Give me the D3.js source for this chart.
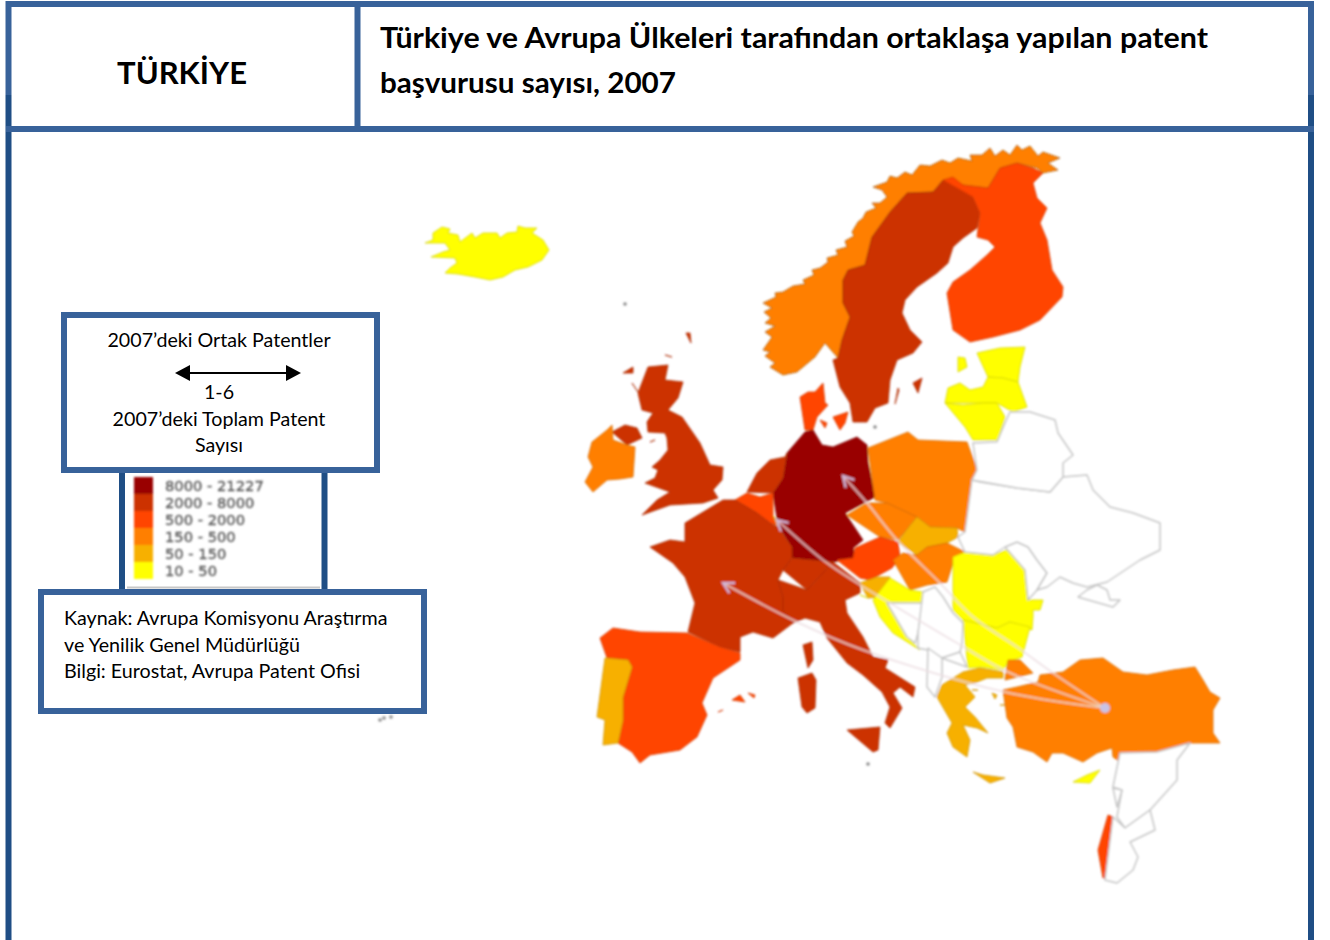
<!DOCTYPE html>
<html>
<head>
<meta charset="utf-8">
<script src="https://cdn.jsdelivr.net/npm/d3@7"></script>
<style>
    html, body { margin: 0; padding: 0; background: #fff; }
    svg { display: block; }
    text { font-family: Lato, "Open Sans", sans-serif; fill: #000; }
    .country { stroke-linejoin: round; }
    .legend-label { font-family: "DejaVu Sans", sans-serif; font-size: 14.7px; fill: #5e5e5e; stroke: #5e5e5e; stroke-width: 0.4px; }
</style>
</head>
<body>
<svg class="chart"></svg>
<script>
// Legend bands
var bandLabels = ['8000 - 21227', '2000 - 8000', '500 - 2000', '150 - 500', '50 - 150', '10 - 50'];
var bandFloors = [8000, 2000, 500, 150, 50, 10];
var bandColors = ['#990000', '#cc3300', '#ff4500', '#ff7f00', '#f7b000', '#ffff00'];

// Which band each country falls in (lower bound, read from the colours). 0 = no data
var countryNames = ['Norveç', 'İsveç', 'Finlandiya', 'Estonya', 'Letonya', 'Litvanya', 'Danimarka', 'Almanya',
    'Hollanda', 'Belçika', 'Lüksemburg', 'Fransa', 'İsviçre', 'İtalya', 'İspanya', 'Portekiz', 'Birleşik Krallık',
    'İrlanda', 'Polonya', 'Çekya', 'Slovakya', 'Avusturya', 'Macaristan', 'Slovenya', 'Hırvatistan', 'Romanya',
    'Bulgaristan', 'Yunanistan', 'Türkiye', 'Kıbrıs', 'İsrail', 'İzlanda', 'Bosna', 'Sırbistan', 'Arnavutluk',
    'Makedonya', 'Moldova', 'Ukrayna', 'Kırım', 'Belarus', 'Suriye', 'Lübnan', 'Ürdün'];
var countryValues = [150, 2000, 500, 10, 10, 10, 500, 8000,
    2000, 500, 50, 2000, 2000, 2000, 500, 50, 2000,
    150, 150, 150, 50, 500, 150, 50, 10, 10,
    10, 50, 150, 10, 500, 10, 0, 0, 0,
    0, 0, 0, 0, 0, 0, 0, 0];

// Outlines, map units. Each country is a list of rings
var countryRings = [
    [[[763,350],[770,352],[765,356],[775,363],[770,367],[783,375],[797,372],[815,357],[825,343],[838,358],[842,340],[850,317],[843,303],[843,280],[848,270],[865,265],[872,237],[890,212],[907,193],[933,192],[943,180],[963,185],[988,188],[1000,168],[1017,163],[1037,168],[1043,173],[1058,170],[1048,163],[1060,158],[1043,152],[1038,156],[1030,146],[1022,150],[1017,145],[1010,155],[1003,150],[995,156],[990,148],[982,155],[970,155],[972,161],[958,158],[950,163],[942,160],[930,166],[920,165],[912,175],[905,172],[897,178],[890,176],[887,182],[873,187],[882,190],[887,197],[880,203],[872,203],[876,208],[866,212],[863,218],[858,222],[852,232],[854,236],[845,241],[847,247],[836,250],[838,255],[827,258],[828,262],[820,268],[812,270],[814,275],[803,280],[805,284],[793,286],[783,292],[775,293],[776,297],[763,303],[772,308],[764,312],[771,318],[765,323],[775,326],[765,332],[772,337],[763,343]]],
    [[[833,360],[838,358],[842,340],[850,317],[843,303],[843,280],[848,270],[865,265],[872,237],[890,212],[907,193],[933,192],[943,180],[963,185],[973,197],[980,213],[977,228],[963,238],[953,247],[948,263],[937,273],[917,287],[905,300],[902,313],[910,330],[922,342],[913,353],[897,360],[890,380],[888,403],[875,408],[867,422],[853,422],[850,403],[840,387],[835,370]],
     [[913,383],[922,378],[918,393],[913,395]], [[898,388],[899,390],[895,404],[893,405]]],
    [[[943,180],[953,177],[963,185],[988,188],[1000,168],[1017,163],[1033,168],[1043,173],[1033,183],[1037,198],[1047,208],[1040,223],[1047,240],[1052,270],[1063,287],[1062,297],[1040,320],[1020,330],[993,337],[970,342],[953,330],[947,293],[953,282],[970,270],[987,255],[995,247],[988,240],[977,237],[980,213],[973,197],[963,185]]],
    [[[977,353],[1000,348],[1025,347],[1020,367],[1018,382],[1003,378],[988,377],[977,370]], [[958,357],[965,358],[967,367],[958,372],[954,368]]],
    [[[945,403],[948,388],[960,383],[970,390],[983,387],[988,377],[1003,378],[1018,382],[1027,407],[1013,412],[997,403],[983,403],[963,405]]],
    [[[945,403],[963,405],[983,403],[997,403],[1005,417],[998,440],[973,440],[965,427],[947,427]]],
    [[[800,397],[808,392],[815,392],[823,383],[825,403],[828,405],[817,417],[813,430],[805,430],[800,417]], [[833,417],[848,412],[845,423],[840,430],[832,427]], [[820,420],[827,423],[825,428],[818,427]]],
    [[[805,432],[813,430],[822,445],[833,447],[857,437],[867,445],[868,463],[875,497],[845,513],[863,540],[853,548],[855,558],[833,562],[792,558],[792,547],[778,525],[773,493],[783,478],[787,453],[805,450]]],
    [[[747,492],[757,473],[770,460],[785,457],[787,453],[783,478],[773,493],[760,497]]],
    [[[735,500],[747,493],[760,497],[773,493],[773,517],[777,525],[770,523],[757,513],[747,507]]],
    [[[773,516],[777,520],[778,527],[772,524]]],
    [[[723,500],[735,500],[747,507],[757,513],[770,523],[778,527],[792,547],[792,558],[783,570],[778,580],[783,597],[783,610],[793,623],[773,638],[753,632],[740,637],[740,652],[720,647],[688,632],[695,603],[685,577],[673,563],[650,547],[670,540],[685,542],[685,523],[707,528]], [[803,645],[812,642],[813,660],[808,668],[803,660]]],
    [[[783,570],[792,558],[833,562],[823,573],[807,590],[785,583]]],
    [[[807,590],[823,573],[833,562],[860,583],[860,593],[845,600],[847,613],[863,637],[873,657],[888,660],[885,668],[915,687],[913,697],[900,687],[893,693],[902,708],[890,728],[885,723],[890,707],[882,692],[863,675],[847,663],[827,638],[820,622],[805,618],[793,623],[783,610],[783,597],[778,580],[785,583]],
     [[798,678],[812,673],[816,680],[815,708],[807,713],[802,707],[802,687]], [[847,730],[880,727],[878,750],[873,752],[857,740]]],
    [[[600,638],[613,628],[640,632],[687,633],[720,647],[740,653],[740,660],[713,678],[702,703],[707,715],[697,737],[680,750],[650,755],[640,763],[632,752],[618,743],[623,720],[623,697],[632,667],[628,660],[607,658],[603,650]],
     [[732,700],[740,695],[745,702],[738,706]], [[748,693],[755,695],[754,698],[750,697]], [[718,712],[723,710],[722,714]]],
    [[[605,658],[628,660],[632,667],[623,697],[623,720],[618,743],[603,745],[605,720],[597,717],[603,687]]],
    [[[648,367],[668,365],[665,380],[683,382],[678,398],[668,410],[682,417],[700,443],[710,465],[723,467],[722,480],[713,490],[718,498],[703,503],[670,505],[642,515],[657,500],[670,492],[645,483],[655,478],[658,470],[652,467],[660,460],[668,450],[667,438],[665,433],[648,432],[647,422],[653,413],[642,410],[638,393],[638,380]],
     [[612,432],[625,425],[637,428],[642,438],[627,445],[613,440]], [[623,373],[633,367],[633,373],[625,380]], [[632,383],[638,392],[633,390]], [[650,442],[655,440],[653,445]], [[665,355],[672,357],[667,358]], [[686,333],[690,333],[691,343],[688,343]]],
    [[[607,430],[612,425],[613,440],[627,445],[635,447],[633,477],[620,479],[607,480],[593,492],[585,482],[593,467],[588,457],[592,442],[607,438]]],
    [[[868,448],[908,432],[918,440],[967,442],[977,470],[972,480],[980,507],[965,532],[957,528],[930,527],[917,517],[887,503],[875,500],[872,470]]],
    [[[847,515],[867,503],[887,503],[917,517],[908,528],[898,540],[880,537],[863,540]]],
    [[[898,542],[908,528],[917,517],[930,527],[957,528],[958,537],[947,543],[927,547],[917,555],[903,553]]],
    [[[837,560],[853,558],[855,548],[880,537],[898,542],[900,557],[892,568],[870,580],[860,578],[837,570]]],
    [[[893,560],[903,553],[917,555],[927,547],[947,543],[965,552],[953,563],[947,582],[927,585],[910,590],[897,577]]],
    [[[860,583],[877,577],[890,577],[880,597],[868,598],[863,592]]],
    [[[890,578],[910,590],[923,592],[925,603],[887,602],[898,620],[907,637],[920,650],[893,633],[880,617],[873,600],[882,597]], [[860,595],[868,598],[865,610]]],
    [[[953,557],[965,552],[993,555],[1007,550],[1015,557],[1025,570],[1028,600],[1043,600],[1040,610],[1033,610],[1033,617],[1032,630],[1010,622],[997,628],[963,620],[953,610],[940,587]]],
    [[[963,620],[997,628],[1010,622],[1030,627],[1022,657],[1008,662],[1003,670],[982,667],[968,668],[962,657]]],
    [[[937,697],[942,685],[963,672],[980,668],[1003,672],[1003,678],[987,678],[977,682],[965,685],[975,697],[965,707],[975,717],[988,733],[977,728],[963,725],[970,740],[967,757],[960,752],[953,747],[947,733],[952,723],[940,710]], [[973,772],[983,775],[1005,778],[990,783],[975,777]], [[992,693],[997,695],[995,699],[991,698]], [[972,690],[978,690],[977,695]], [[1000,705],[1006,705],[1005,708]]],
    [[[1003,690],[1017,687],[1038,682],[1040,675],[1063,672],[1080,660],[1103,658],[1123,672],[1147,675],[1173,670],[1195,667],[1203,680],[1210,692],[1220,698],[1213,710],[1213,733],[1220,743],[1190,743],[1157,752],[1123,753],[1122,763],[1113,757],[1112,748],[1097,753],[1083,762],[1063,753],[1052,753],[1047,762],[1033,752],[1017,747],[1013,727],[1007,718],[1003,702]],
     [[1005,680],[1008,660],[1020,660],[1033,673],[1017,677],[1005,687]]],
    [[[1073,782],[1087,775],[1100,770],[1090,783],[1077,788]]],
    [[[1108,815],[1113,817],[1110,840],[1105,878],[1103,878],[1098,850],[1097,847]]],
    [[[425,243],[433,240],[433,233],[442,227],[450,229],[448,233],[458,235],[460,242],[472,233],[475,238],[483,233],[497,233],[500,238],[507,233],[517,232],[518,226],[525,228],[537,228],[532,233],[543,240],[549,250],[542,260],[528,267],[515,270],[503,277],[490,280],[475,277],[458,274],[445,273],[450,268],[457,263],[455,258],[431,257],[443,252],[450,250],[445,243],[435,243]]],
    [[[887,603],[923,603],[918,633],[915,643],[907,637],[898,620]]],
    [[[923,592],[935,587],[943,597],[953,613],[963,623],[962,643],[960,652],[942,658],[928,650],[918,648],[918,633],[923,603]]],
    [[[928,648],[942,658],[942,677],[935,697],[927,687],[925,667]]],
    [[[942,658],[960,652],[967,667],[947,677]]],
    [[[1005,547],[1017,542],[1028,547],[1037,560],[1047,573],[1037,590],[1028,600],[1025,570],[1015,557]]],
    [[[972,480],[980,482],[1017,488],[1050,492],[1063,477],[1087,475],[1093,490],[1110,507],[1133,513],[1160,523],[1160,550],[1140,560],[1107,582],[1095,585],[1087,587],[1073,583],[1060,577],[1047,587],[1037,590],[1047,573],[1037,560],[1028,547],[1017,542],[1005,547],[993,555],[965,552],[958,537],[965,532],[980,507]]],
    [[[1078,597],[1087,590],[1097,585],[1107,590],[1110,600],[1120,600],[1113,607],[1090,615]]],
    [[[972,480],[977,470],[973,443],[997,442],[1005,423],[1010,412],[1030,412],[1055,420],[1058,433],[1073,455],[1063,463],[1063,477],[1050,492],[1017,488],[980,482]]],
    [[[1120,753],[1157,752],[1190,743],[1177,760],[1177,780],[1150,810],[1125,828],[1117,817],[1122,790],[1113,787],[1115,767]]],
    [[[1113,788],[1122,790],[1117,807],[1108,813]]],
    [[[1113,817],[1125,828],[1150,810],[1155,830],[1130,842],[1138,857],[1133,870],[1117,883],[1105,880],[1110,840]]]
];

// Small grey islets: Faroe, Bornholm, Malta, Canaries
var isletPoints = [[625,304], [875,427], [868,764], [384,718], [391,717], [380,720]];

// Joint patent flows out of Turkey, each with the way it bends on the map
var flowNames = ['Almanya', 'Belçika', 'Fransa'];
var flowPaths = [
    [[1105,708], [1053,673], [1017,647], [973,617], [940,583], [897,540], [867,503], [843,476]],
    [[1105,708], [1008,672], [957,643], [890,603], [857,583], [823,560], [777,520]],
    [[1105,708], [1005,692], [863,650], [797,622], [723,583]]
];

var frameColor = '#38629a',
    frameDark = '#1f4e85';
var width = 1330,
    height = 940;

var svg = d3.select('.chart').attr('width', width).attr('height', height);

var defs = svg.append('defs');
defs.append('filter')
    .attr('id', 'soft')
    .attr('x', '-5%')
    .attr('y', '-5%')
    .attr('width', '110%')
    .attr('height', '110%')
    .append('feGaussianBlur')
    .attr('stdDeviation', 0.9);

// Threshold scale from the legend bands to the fill colours
var color = d3
    .scaleThreshold()
    .domain(bandFloors.slice().reverse())
    .range(['#ffffff'].concat(bandColors.slice().reverse()));

var features = countryRings.map(function (rings, i) {
    return {
        type: 'Feature',
        properties: { name: countryNames[i], value: countryValues[i] },
        geometry: {
            type: 'MultiPolygon',
            coordinates: rings.map(function (r) {
                return [r];
            })
        }
    };
});

var path = d3.geoPath(d3.geoIdentity());

// Map
var map = svg.append('g').attr('class', 'map').attr('filter', 'url(#soft)');

map.selectAll('.country')
    .data(features)
    .enter()
    .append('path')
    .attr('class', 'country')
    .attr('d', path)
    .attr('fill', function (d) {
        return color(d.properties.value);
    })
    .attr('stroke', function (d) {
        if (!d.properties.value) return '#c4c4c4';
        return d.properties.name == 'Norveç' ? '#a8601a' : d3.color(color(d.properties.value)).darker(0.5);
    })
    .attr('stroke-width', function (d) {
        return d.properties.value ? 0.8 : 1.5;
    });

map.selectAll('.islet')
    .data(isletPoints)
    .enter()
    .append('circle')
    .attr('cx', function (d) { return d[0]; })
    .attr('cy', function (d) { return d[1]; })
    .attr('r', 1.8)
    .attr('fill', '#8a8a8a');

// Flow arrows
var flowLine = d3.line().curve(d3.curveCatmullRom);

defs.append('marker')
    .attr('id', 'flow-head')
    .attr('viewBox', '-10 -6 12 12')
    .attr('markerUnits', 'userSpaceOnUse')
    .attr('markerWidth', 14)
    .attr('markerHeight', 14)
    .attr('orient', 'auto')
    .append('path')
    .attr('d', 'M-9,-5L0,0L-9,5')
    .attr('fill', 'none')
    .attr('stroke', '#cfb4d6')
    .attr('stroke-width', 2);

map.selectAll('.flow')
    .data(flowPaths)
    .enter()
    .append('path')
    .attr('class', 'flow')
    .attr('d', flowLine)
    .attr('fill', 'none')
    .attr('stroke', '#ecdde2')
    .attr('stroke-opacity', 0.75)
    .attr('stroke-width', 2)
    .attr('marker-end', 'url(#flow-head)');

map.append('circle')
    .attr('cx', flowPaths[0][0][0])
    .attr('cy', flowPaths[0][0][1])
    .attr('r', 5)
    .attr('fill', '#c9c3e6');

// Page frame
function box(x, y, w, h, sw) {
    svg.append('rect')
        .attr('x', x)
        .attr('y', y)
        .attr('width', w)
        .attr('height', h)
        .attr('fill', '#fff')
        .attr('stroke', frameColor)
        .attr('stroke-width', sw);
}

function rule(x1, y1, x2, y2, c) {
    svg.append('line')
        .attr('x1', x1)
        .attr('y1', y1)
        .attr('x2', x2)
        .attr('y2', y2)
        .attr('stroke', c)
        .attr('stroke-width', 6);
}

rule(8.5, 95, 8.5, 940, frameDark);
rule(1311, 95, 1311, 940, frameDark);
rule(8.5, 1, 8.5, 95, frameColor);
rule(1311, 1, 1311, 95, frameColor);
rule(6, 4, 1314, 4, frameColor);
rule(6, 129, 1314, 129, frameColor);
rule(357.5, 1, 357.5, 132, frameColor);

svg.append('text')
    .attr('x', 182)
    .attr('y', 84)
    .attr('text-anchor', 'middle')
    .attr('font-size', 31)
    .attr('font-weight', 700)
    .text('TÜRKİYE');

var titleLines = ['Türkiye ve Avrupa Ülkeleri tarafından ortaklaşa yapılan patent', 'başvurusu sayısı, 2007'];
var titleWidths = [828, 296];
svg.selectAll('.title')
    .data(titleLines)
    .enter()
    .append('text')
    .attr('class', 'title')
    .attr('x', 380)
    .attr('y', function (d, i) { return 48 + i * 45; })
    .attr('font-size', 29)
    .attr('font-weight', 700)
    .attr('textLength', function (d, i) { return titleWidths[i]; })
    .attr('lengthAdjust', 'spacingAndGlyphs')
    .text(function (d) { return d; });

// Legend panel behind the two text boxes
var legend = svg.append('g').attr('class', 'legend');
legend.append('rect')
    .attr('x', 122)
    .attr('y', 465)
    .attr('width', 202.5)
    .attr('height', 130)
    .attr('fill', '#fff')
    .attr('stroke', frameDark)
    .attr('stroke-width', 6);

legend.append('line')
    .attr('x1', 127)
    .attr('x2', 320)
    .attr('y1', 587.5)
    .attr('y2', 587.5)
    .attr('stroke', '#c8c8c8')
    .attr('stroke-width', 2);

var bandY = d3
    .scaleBand()
    .domain(bandLabels)
    .range([477, 579]);

var legendMarks = legend.append('g').attr('filter', 'url(#soft)');

legendMarks.selectAll('.swatch')
    .data(bandLabels)
    .enter()
    .append('rect')
    .attr('class', 'swatch')
    .attr('x', 134)
    .attr('y', function (d) { return bandY(d); })
    .attr('width', 19)
    .attr('height', bandY.bandwidth())
    .attr('fill', function (d, i) { return bandColors[i]; });

legendMarks.selectAll('.legend-label')
    .data(bandLabels)
    .enter()
    .append('text')
    .attr('class', 'legend-label')
    .attr('x', 165)
    .attr('y', function (d) { return bandY(d) + bandY.bandwidth() / 2 + 5; })
    .text(function (d) { return d; });

// Ratio key box
box(64, 315, 313, 155, 6);
var keyLines = [
    { t: '2007’deki Ortak Patentler', y: 347 },
    { t: '1-6', y: 399 },
    { t: '2007’deki Toplam Patent', y: 426 },
    { t: 'Sayısı', y: 452 }
];
svg.selectAll('.key')
    .data(keyLines)
    .enter()
    .append('text')
    .attr('class', 'key')
    .attr('x', 219)
    .attr('y', function (d) { return d.y; })
    .attr('text-anchor', 'middle')
    .attr('font-size', 19.65)
    .text(function (d) { return d.t; });

svg.append('line')
    .attr('x1', 185)
    .attr('x2', 291)
    .attr('y1', 373)
    .attr('y2', 373)
    .attr('stroke', '#000')
    .attr('stroke-width', 2);
svg.append('path').attr('d', 'M175,373L190,365L190,381Z').attr('fill', '#000');
svg.append('path').attr('d', 'M301,373L286,365L286,381Z').attr('fill', '#000');

// Source box
box(41, 592, 383, 119, 6);
var sourceLines = ['Kaynak: Avrupa Komisyonu Araştırma', 've Yenilik Genel Müdürlüğü', 'Bilgi: Eurostat, Avrupa Patent Ofisi'];
svg.selectAll('.source')
    .data(sourceLines)
    .enter()
    .append('text')
    .attr('class', 'source')
    .attr('x', 64)
    .attr('y', function (d, i) { return 625 + i * 26.5; })
    .attr('font-size', 19.7)
    .text(function (d) { return d; });
</script>
</body>
</html>
